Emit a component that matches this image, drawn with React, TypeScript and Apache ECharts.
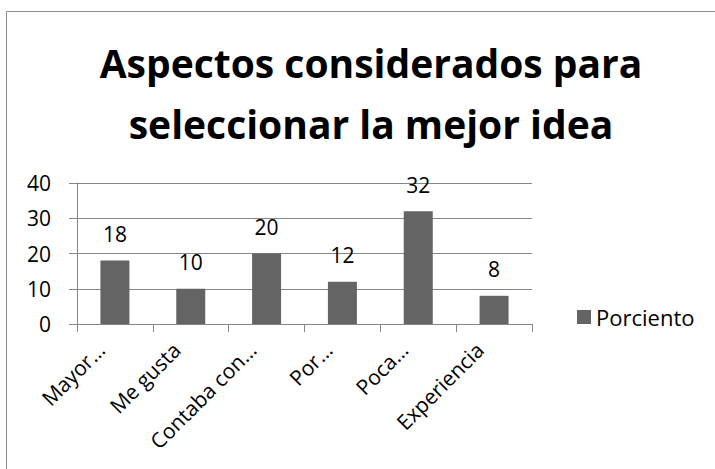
import React, { useEffect, useRef } from "react";
import * as echarts from "echarts";

const categories = ["Mayor…", "Me gusta", "Contaba con…", "Por…", "Poca…", "Experiencia"];
const values = [18, 10, 20, 12, 32, 8];
const seriesName = "Porciento";
const titleText = "Aspectos considerados para\nseleccionar la mejor idea";
const yMin = 0;
const yMax = 40;
const yInterval = 10;

export default function App() {
  const ref = useRef<HTMLDivElement>(null);
  useEffect(() => {
    if (!ref.current) return;
    const chart = echarts.init(ref.current, null, { renderer: "svg" });
    const font = "'Open Sans', 'Noto Sans', sans-serif";
    chart.setOption({
      animation: false,
      backgroundColor: "#ffffff",
      textStyle: { fontFamily: font },
      graphic: [
        {
          type: "rect",
          shape: { x: 6.5, y: 11.5, width: 800, height: 600 },
          style: { fill: "none", stroke: "#8c8c8c", lineWidth: 1 },
          silent: true,
        },
      ],
      title: {
        text: titleText,
        left: 366,
        top: 27,
        textAlign: "center",
        textStyle: {
          fontFamily: font,
          fontWeight: "bold",
          fontSize: 39,
          lineHeight: 61,
          color: "#000000",
        },
      },
      legend: {
        data: [seriesName],
        left: 572,
        top: 301,
        orient: "vertical",
        itemWidth: 14,
        itemHeight: 14,
        itemGap: 8,
        icon: "rect",
        textStyle: { fontFamily: font, fontSize: 22, color: "#000000" },
      },
      grid: { left: 77, right: 183, top: 183, bottom: 145, containLabel: false },
      xAxis: {
        type: "category",
        data: categories,
        axisLine: { lineStyle: { color: "#868686", width: 1 } },
        axisTick: { show: true, length: 8, alignWithLabel: false, lineStyle: { color: "#868686" } },
        axisLabel: {
          rotate: 45,
          interval: 0,
          margin: 8,
          padding: [0, 20, 0, 0],
          fontFamily: font,
          fontSize: 21,
          color: "#000000",
        },
      },
      yAxis: {
        type: "value",
        min: yMin,
        max: yMax,
        interval: yInterval,
        axisLine: { show: true, lineStyle: { color: "#868686", width: 1 } },
        axisTick: { show: true, length: 8, inside: false, lineStyle: { color: "#868686" } },
        splitLine: { show: true, lineStyle: { color: "#868686", width: 1 } },
        axisLabel: { margin: 26, fontFamily: font, fontSize: 21, color: "#000000" },
      },
      series: [
        {
          name: seriesName,
          type: "bar",
          data: values,
          barWidth: 29,
          itemStyle: { color: "#646464" },
          label: {
            show: true,
            position: "top",
            distance: 16,
            fontFamily: font,
            fontSize: 21,
            color: "#000000",
          },
        },
      ],
    });
    return () => chart.dispose();
  }, []);
  return (
    <div
      ref={ref}
      style={{ position: "fixed", left: 0, top: 0, width: 715, height: 469 }}
    />
  );
}
